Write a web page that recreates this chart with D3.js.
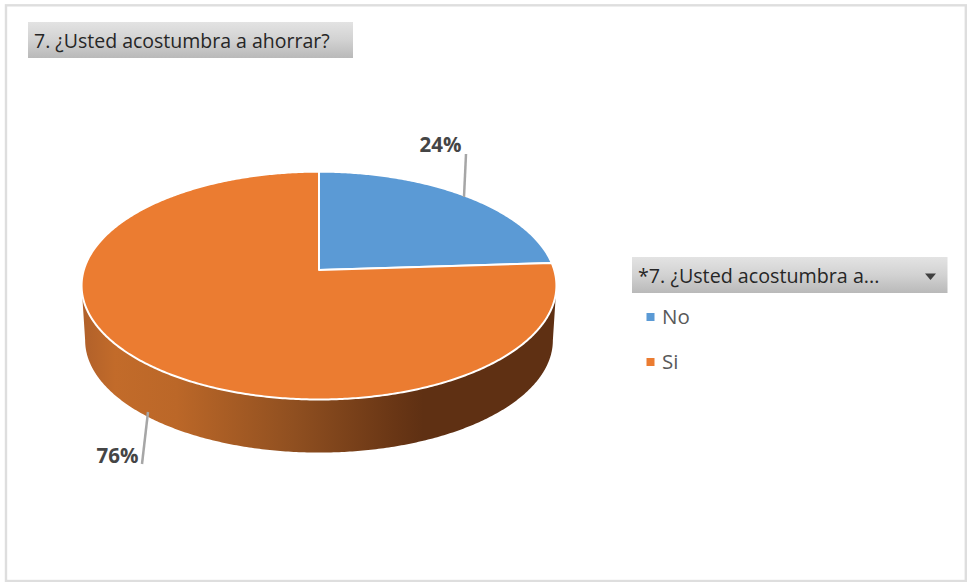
<!DOCTYPE html>
<html>
<head>
<meta charset="utf-8">
<script src="https://cdn.jsdelivr.net/npm/d3@7"></script>
<style>
html,body{margin:0;padding:0;background:#fff}
svg{display:block}
text{font-family:"Open Sans",sans-serif}
</style>
</head>
<body>
<svg id="chart" width="967" height="582"></svg>
<script>
// Survey answers
const categories = ["No", "Si"];
const shares = [24, 76];
const sliceColors = ["#5b9ad5", "#eb7c31"];
const chartTitle = "7. ¿Usted acostumbra a ahorrar?";
const filterTitle = "*7. ¿Usted acostumbra a...";

const svg = d3.select("#chart");
const defs = svg.append("defs");

// Tilted disc: a circle pushed through a simple perspective, so the hub sits above the ellipse middle
const hub = {x: 319, y: 270};
const persp = 0.1366, depthScale = 111.8, widthScale = 235.2;
function rim(angle, scale = 1, dy = 0) {
  const u = Math.sin(angle), v = Math.cos(angle);
  const w = 1 + persp * v;
  return [hub.x + scale * widthScale * u / w, hub.y + dy - scale * depthScale * v / w];
}
const outline = d3.line();
const pie = d3.pie().sort(null).value(d => d);
const arcs = pie(shares);
const arcPoints = (a0, a1, scale, dy) => {
  const n = Math.max(2, Math.ceil(Math.abs(a1 - a0) / 0.01));
  return d3.range(n + 1).map(i => rim(a0 + (a1 - a0) * i / n, scale, dy));
};

// Gradients
const wallGrad = defs.append("linearGradient").attr("id", "wall")
  .attr("gradientUnits", "userSpaceOnUse").attr("x1", 82).attr("x2", 556).attr("y1", 0).attr("y2", 0);
[[0, "#b0602a"], [0.07, "#c26b2a"], [0.2, "#bb6728"], [0.45, "#8f4f20"], [0.66, "#693615"], [0.72, "#5f3013"], [1, "#5f3013"]]
  .forEach(([o, c]) => wallGrad.append("stop").attr("offset", o).attr("stop-color", c));
const barGrad = defs.append("linearGradient").attr("id", "bar").attr("x1", 0).attr("x2", 0).attr("y1", 0).attr("y2", 1);
[[0, "#e3e3e3"], [0.5, "#d2d2d2"], [1, "#b9b9b9"]]
  .forEach(([o, c]) => barGrad.append("stop").attr("offset", o).attr("stop-color", c));

// Outer frame
svg.append("rect").attr("x", 6).attr("y", 5.3).attr("width", 959.8).attr("height", 575.7)
  .attr("fill", "#fff").attr("stroke", "#dedede").attr("stroke-width", 2.4);

// Title button
svg.append("rect").attr("x", 28).attr("y", 22).attr("width", 325).attr("height", 36).attr("fill", "url(#bar)");
svg.append("text").attr("x", 34).attr("y", 48).attr("font-size", 19.5).attr("fill", "#262626").text(chartTitle);

// Side wall of the disc: front half of the rim down to a slightly smaller base rim
const frontStart = Math.PI - Math.acos(persp), frontEnd = Math.PI + Math.acos(persp);
const wallDrop = 55, baseScale = 0.985;
const wallPts = arcPoints(frontStart, frontEnd, 1, 0)
  .concat(arcPoints(frontEnd, frontStart, baseScale, wallDrop));
svg.append("path").attr("d", outline(wallPts) + "Z").attr("fill", "url(#wall)");

// Top face slices
svg.selectAll("path.slice").data(arcs).join("path").attr("class", "slice")
  .attr("d", d => outline([[hub.x, hub.y], ...arcPoints(d.startAngle, d.endAngle, 1, 0)]) + "Z")
  .attr("fill", (d, i) => sliceColors[i])
  .attr("stroke", "#fff").attr("stroke-width", 2).attr("stroke-linejoin", "round");

// Leader lines and percent labels
const leaders = [[[466, 154], [464, 197]], [[142, 464], [148, 412]]];
svg.selectAll("path.leader").data(leaders).join("path").attr("class", "leader")
  .attr("d", d => outline(d)).attr("fill", "none").attr("stroke", "#a6a6a6").attr("stroke-width", 2.5);
const labelPos = [[440.5, 152], [117.5, 463]];
svg.selectAll("text.pct").data(shares).join("text").attr("class", "pct")
  .attr("x", (d, i) => labelPos[i][0]).attr("y", (d, i) => labelPos[i][1])
  .attr("text-anchor", "middle").attr("font-size", 20.5).attr("font-weight", 700)
  .attr("fill", "#454545").text(d => d + "%");

// Slicer-style legend
svg.append("rect").attr("x", 632).attr("y", 257).attr("width", 315.5).attr("height", 36).attr("fill", "url(#bar)");
svg.append("text").attr("x", 638).attr("y", 283).attr("font-size", 19.7).attr("fill", "#262626").text(filterTitle);
svg.append("path").attr("d", d3.line()([[925, 273.5], [936, 273.5], [930.5, 280]]) + "Z").attr("fill", "#404040");

const legendY = d3.scalePoint().domain(categories).range([317, 362]);
const legend = svg.selectAll("g.item").data(categories).join("g").attr("class", "item")
  .attr("transform", d => `translate(646.5,${legendY(d)})`);
legend.append("rect").attr("y", -4).attr("width", 8).attr("height", 8)
  .attr("fill", (d, i) => sliceColors[i]);
legend.append("text").attr("x", 15.5).attr("y", 7).attr("font-size", 20.5).attr("fill", "#595959").text(d => d);
</script>
</body>
</html>
